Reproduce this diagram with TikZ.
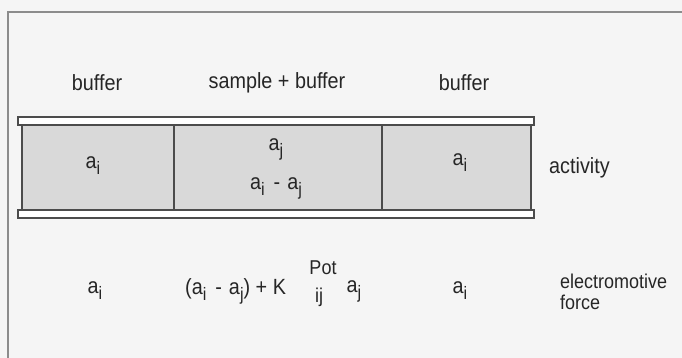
\documentclass[tikz,border=0pt]{standalone}
\usepackage{fontspec}
\setmainfont{Liberation Sans}[FakeStretch=0.9]
\newcommand{\lowidx}[1]{\raisebox{-6pt}{\fontsize{18}{18}\selectfont #1}}
\newcommand{\lblfont}{\fontsize{22}{26}\selectfont}
\tikzset{
  lbl/.style={font=\lblfont, text=black!85, inner sep=0pt},
  small/.style={font=\fontsize{20}{20}\selectfont, text=black!85, inner sep=0pt},
  plate/.style={fill=white, draw=black!70, line width=1.3pt},
  cell/.style={fill=black!15, draw=black!70, line width=1.3pt}
}
\begin{document}
\begin{tikzpicture}[x=1pt, y=-1pt]
\useasboundingbox[fill=black!4] (0,0) rectangle (682,358);
% frame of the figure
\draw[black!45, line width=1.5pt] (8,358) -- (8,12) -- (682,12);
% the tube, three cells
\filldraw[cell] (22,125) rectangle (174,210);
\filldraw[cell] (174,125) rectangle (382,210);
\filldraw[cell] (382,125) rectangle (531,210);
\foreach \y in {117,210}
	\filldraw[plate] (18,\y) rectangle (534,{\y+8});
% headings
\node[lbl] (buf1) at (97,83) {buffer};
\node[lbl] (samp) at (277,83) {sample + buffer};
\node[lbl] (buf2) at (464,83) {buffer};
% activity
\node[lbl] (ai1) at (93,166) {a\lowidx{i}};
\node[lbl] (aj) at (276,149) {a\lowidx{j}};
\node[lbl] (diff) at (276,188) {a\lowidx{i}\hspace{9pt}-\hspace{7pt}a\lowidx{j}};
\node[lbl] (ai2) at (460,163) {a\lowidx{i}};
\node[lbl, anchor=west] (act) at (549,168) {activity};
% electromotive force
\node[lbl] (ai3) at (95,291) {a\lowidx{i}};
\node[lbl, anchor=west] (expr) at (185,291) {(a\lowidx{i}\hspace{9pt}-\hspace{7pt}a\lowidx{j}) + K};
\node[small] (pot) at (323,268) {Pot};
\node[small] (ij) at (319,297) {ij};
\node[lbl] (aj2) at (354,291) {a\lowidx{j}};
\node[lbl] (ai4) at (460,291) {a\lowidx{i}};
\node[lbl, anchor=west, align=left, font=\fontsize{20}{20}\selectfont] (emf) at (560,292) {electromotive\\[1pt]force};
\end{tikzpicture}
\end{document}
